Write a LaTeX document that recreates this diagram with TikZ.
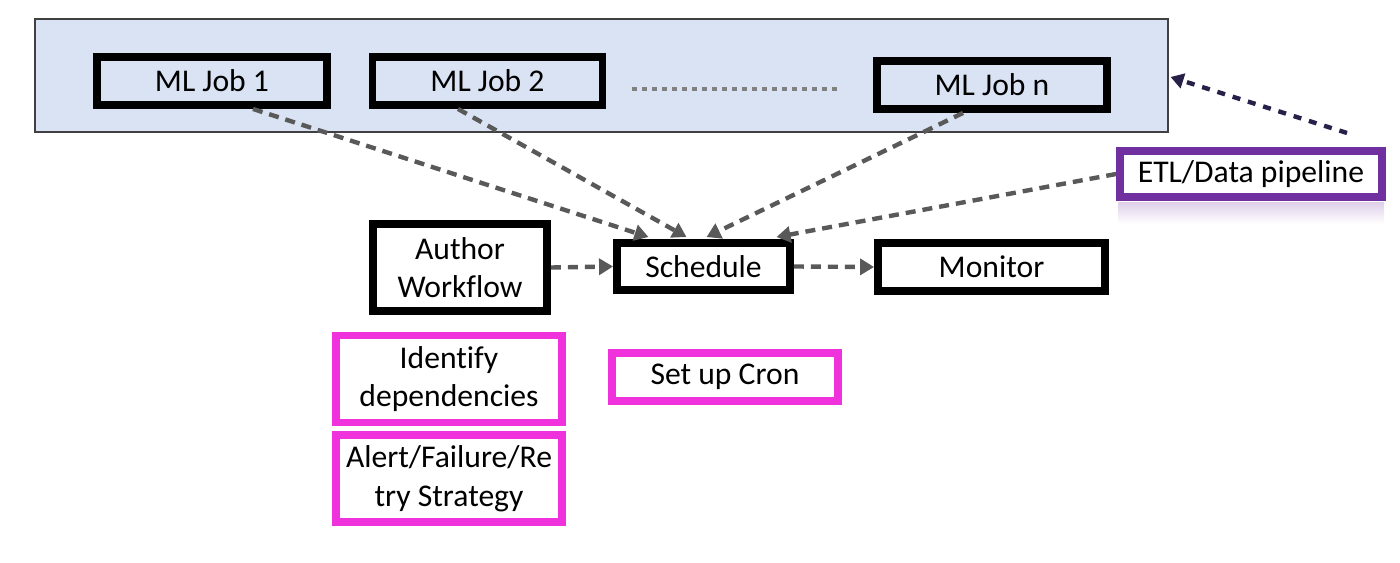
\documentclass[tikz,border=0pt]{standalone}
\usepackage{fontspec}
\setmainfont[Ligatures=NoCommon]{Carlito}
\usetikzlibrary{arrows.meta, calc}
\definecolor{jobblue}{RGB}{218,227,243}
\definecolor{arrowgray}{RGB}{89,89,89}
\definecolor{etlpurple}{RGB}{112,48,160}
\definecolor{notemagenta}{RGB}{240,50,220}
\definecolor{linknavy}{RGB}{40,32,72}
\tikzset{
  poolbox/.style={rectangle, draw=black!75, line width=0.8pt, fill=jobblue, minimum width=22.66cm, minimum height=2.26cm, inner sep=0pt},
  mlbox/.style={rectangle, draw=black, line width=4.5pt, fill=jobblue, minimum width=4.6cm, minimum height=0.96cm, inner sep=0pt, text centered, font=\fontsize{18}{22}\selectfont},
  flowbox/.style={rectangle, draw=black, line width=4.5pt, fill=white, inner sep=0pt, align=center, font=\fontsize{18}{22}\selectfont},
  notebox/.style={rectangle, draw=notemagenta, line width=4.5pt, fill=white, inner sep=0pt, align=center, font=\fontsize{18}{22}\selectfont},
  etlbox/.style={rectangle, draw=etlpurple, line width=4.5pt, fill=white, minimum width=5.24cm, minimum height=0.92cm, inner sep=0pt, font=\fontsize{18}{22}\selectfont},
  arrow/.style={arrowgray, line width=2.5pt, dash pattern=on 0.2cm off 0.14cm, -{Triangle[length=0.28cm, width=0.32cm]}},
  feedarrow/.style={linknavy, line width=2.5pt, dash pattern=on 0.16cm off 0.16cm, -{Triangle[length=0.26cm, width=0.3cm]}},
  gapdots/.style={black!50, line width=1.8pt, dash pattern=on 0.1cm off 0.1cm}
}

\begin{document}
\begin{tikzpicture}[x=0.02cm, y=-0.02cm]
    \useasboundingbox (0,0) rectangle (1400,563);

    % 1. Bloque de trabajos ML
    \node[poolbox] (pool) at (601.5,75.5) {};
    \node[mlbox] (job1) at (212,81) {ML Job 1};
    \node[mlbox] (job2) at (487.5,81) {ML Job 2};
    \node[mlbox] (jobn) at (992,85) {ML Job n};
    \draw[gapdots] (632,89) -- (838,89);

    % 2. Pipeline de datos
    \shade[top color=etlpurple!22, bottom color=white] (1118,203) rectangle (1384,224);
    \node[etlbox] (etl) at (1251,174) {ETL/Data pipeline};
    \coordinate (etltail) at (1347,133);

    % 3. Flujo principal
    \node[flowbox, minimum width=3.48cm, minimum height=1.74cm] (author) at (460,267.5) {Author\\Workflow};
    \node[flowbox, minimum width=3.46cm, minimum height=0.94cm] (sched) at (703.5,266.5) {Schedule};
    \node[flowbox, minimum width=4.54cm, minimum height=0.96cm] (monitor) at (991.5,267) {Monitor};

    % 4. Notas
    \node[notebox, minimum width=4.52cm, minimum height=1.74cm] (deps) at (449,379) {Identify\\dependencies};
    \node[notebox, minimum width=4.52cm, minimum height=1.74cm] (retry) at (449,478.5) {Alert/Failure/Re\\try Strategy};
    \node[notebox, minimum width=4.52cm, minimum height=0.96cm] (cron) at (725,377) {Set up Cron};

    % 5. Conexiones
    \draw[arrow] ($(job1.south)+(41,0)$) -- ($(sched.north)+(-55,-2)$);
    \draw[arrow] ($(job2.south)+(-29.5,0)$) -- ($(sched.north)+(-17,-2)$);
    \draw[arrow] ($(jobn.south)+(-29,0)$) -- ($(sched.north)+(3,-2)$);
    \draw[arrow] (etl.west) -- ($(sched.north)+(73,-2)$);
    \draw[arrow] (author.east) -- (sched.west);
    \draw[arrow] (sched.east) -- (monitor.west);
    \draw[feedarrow] (etltail) -- ($(pool.east)+(2,1.5)$);

\end{tikzpicture}
\end{document}
